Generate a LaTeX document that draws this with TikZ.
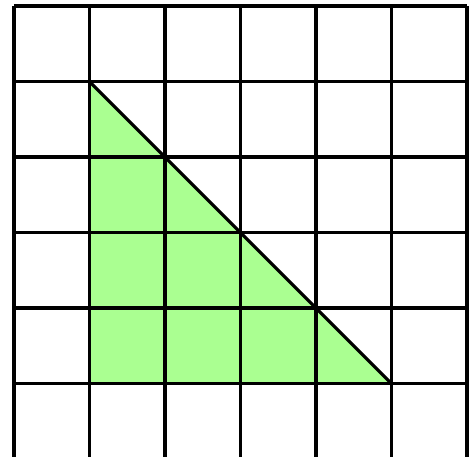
\documentclass[tikz,border=0pt]{standalone}
\definecolor{lightgreen}{RGB}{170,255,145}

\begin{document}
\begin{tikzpicture}[gridline/.style={line width=1.2pt, black}]

	\useasboundingbox (-0.185, 0.03) rectangle (6.066, 6.08);

	\fill[lightgreen] (1, 5) -- (1, 1) -- (5, 1) -- cycle;

	\draw[gridline] (0, -0.5) grid (6, 6);
	\draw[gridline] (1, 5) -- (5, 1);

\end{tikzpicture}
\end{document}
